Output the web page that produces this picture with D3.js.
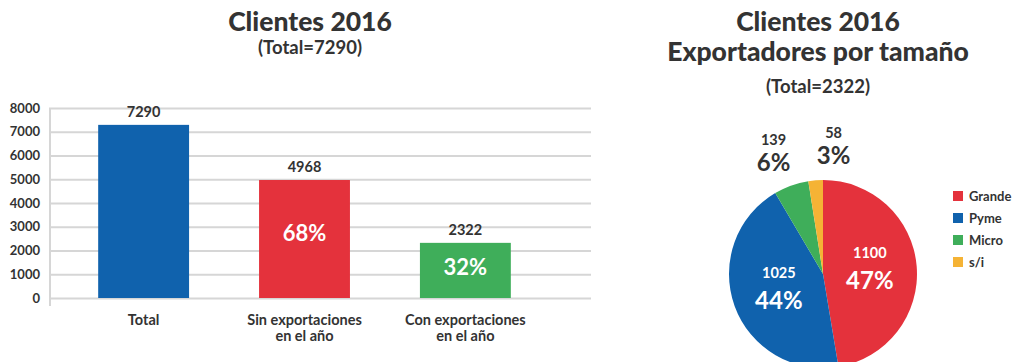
<!DOCTYPE html>
<html>
<head>
<meta charset="utf-8">
<script src="https://cdn.jsdelivr.net/npm/d3@7"></script>
<style>
  html, body { margin: 0; padding: 0; background: #fff; }
  svg { display: block; font-family: Lato, "Open Sans", sans-serif; }
</style>
</head>
<body>
<svg id="chart" width="1015" height="362"></svg>
<script>
// Bar chart: clients 2016
const barCategories = [["Total"], ["Sin exportaciones", "en el año"], ["Con exportaciones", "en el año"]];
const barValues = [7290, 4968, 2322];
const barPercents = ["", "68%", "32%"];
const barColors = ["#1062ad", "#e4323c", "#3fae5a"];
const yTicks = [0, 1000, 2000, 3000, 4000, 5000, 6000, 7000, 8000];

// Pie chart: exporters by size
const pieLabels = ["Grande", "Pyme", "Micro", "s/i"];
const pieValues = [1100, 1025, 139, 58];
const piePercents = ["47%", "44%", "6%", "3%"];
const pieColors = ["#e4323c", "#1062ad", "#3fae5a", "#f5b335"];

const svg = d3.select("#chart");
const dark = "#333";

// ---------- bar chart ----------
const y = d3.scaleLinear().domain([0, 8000]).range([298, 108]);
const x = d3.scaleBand().domain(barValues.map((d, i) => i)).range([66, 543]).paddingInner(0.435).paddingOuter(0.2);

svg.append("text").attr("x", 310).attr("y", 31).attr("text-anchor", "middle")
  .attr("font-size", 26.5).attr("font-weight", 900).attr("fill", dark).text("Clientes 2016");
svg.append("text").attr("x", 310).attr("y", 54).attr("text-anchor", "middle")
  .attr("font-size", 18.5).attr("font-weight", 700).attr("fill", dark).text("(Total=7290)");

const yAxis = svg.append("g").attr("transform", "translate(49,0)")
  .call(d3.axisLeft(y).tickValues(yTicks).tickSize(-542).tickPadding(9).tickFormat(d3.format("d")));
yAxis.select(".domain").remove();
yAxis.selectAll(".tick line").attr("stroke", "#d6d6d6").attr("stroke-width", 2.2);
yAxis.selectAll(".tick text").attr("font-size", 13).attr("font-weight", 700).attr("fill", dark)
  .attr("font-family", "Lato, sans-serif");
svg.append("line").attr("x1", 50).attr("x2", 50).attr("y1", y(8000)).attr("y2", y(0) + 8)
  .attr("stroke", "#d6d6d6").attr("stroke-width", 2);

barValues.forEach((v, i) => {
  const bx = x(i), bw = x.bandwidth(), cx = bx + bw / 2;
  svg.append("rect").attr("x", bx).attr("y", y(v)).attr("width", bw).attr("height", y(0) - y(v))
    .attr("fill", barColors[i]);
  svg.append("text").attr("x", cx).attr("y", y(v) - 8).attr("text-anchor", "middle")
    .attr("font-size", 14.5).attr("font-weight", 700).attr("fill", dark).text(v);
  if (barPercents[i]) {
    svg.append("text").attr("x", cx).attr("y", y(v * 0.55)).attr("dy", "0.35em").attr("text-anchor", "middle")
      .attr("font-size", 22).attr("font-weight", 700).attr("fill", "#fff").text(barPercents[i]);
  }
  barCategories[i].forEach((line, k) => {
    svg.append("text").attr("x", cx).attr("y", 325 + k * 16).attr("text-anchor", "middle")
      .attr("font-size", 14.5).attr("font-weight", 700).attr("fill", dark).text(line);
  });
});

// ---------- pie chart ----------
svg.append("text").attr("x", 818).attr("y", 31).attr("text-anchor", "middle")
  .attr("font-size", 26.5).attr("font-weight", 900).attr("fill", dark).text("Clientes 2016");
svg.append("text").attr("x", 818).attr("y", 61).attr("text-anchor", "middle")
  .attr("font-size", 26.5).attr("font-weight", 900).attr("fill", dark).text("Exportadores por tamaño");
svg.append("text").attr("x", 818).attr("y", 93).attr("text-anchor", "middle")
  .attr("font-size", 18.5).attr("font-weight", 700).attr("fill", dark).text("(Total=2322)");

const cx = 823, cy = 274, r = 94;
const pie = d3.pie().sort(null).value(d => d);
const arcs = pie(pieValues);
const arc = d3.arc().innerRadius(0).outerRadius(r);
const g = svg.append("g").attr("transform", `translate(${cx},${cy})`);
g.selectAll("path").data(arcs).enter().append("path")
  .attr("d", arc).attr("fill", (d, i) => pieColors[i]);

// inside labels for large slices, outside labels for small ones
const inArc = d3.arc().innerRadius(r * 0.5).outerRadius(r * 0.5);
const outArc = d3.arc().innerRadius(r * 1.3).outerRadius(r * 1.3);
const placed = arcs.map(a => {
  const inside = a.endAngle - a.startAngle > 0.6;
  const [px, py] = inside ? inArc.centroid(a) : outArc.centroid(a);
  return { inside, px, py };
});
// spread the outside labels so they don't crowd each other
const outs = placed.filter(p => !p.inside);
if (outs.length > 1) {
  const mid = d3.mean(outs, p => p.px) + 6;
  const gap = 60;
  outs.sort((a, b) => a.px - b.px).forEach((p, k) => {
    p.px = mid + (k - (outs.length - 1) / 2) * gap;
  });
}
placed.forEach((p, i) => {
  const col = p.inside ? "#fff" : dark;
  g.append("text").attr("x", p.px).attr("y", p.py - (p.inside ? 12 : 14)).attr("text-anchor", "middle")
    .attr("font-size", 14.5).attr("font-weight", 700).attr("fill", col).text(pieValues[i]);
  g.append("text").attr("x", p.px).attr("y", p.py + (p.inside ? 19 : 12)).attr("text-anchor", "middle")
    .attr("font-size", 24).attr("font-weight", 700).attr("fill", col).text(piePercents[i]);
});

// legend
const legend = svg.append("g").attr("transform", "translate(953,191)");
pieLabels.forEach((lab, i) => {
  const row = legend.append("g").attr("transform", `translate(0,${i * 22})`);
  row.append("rect").attr("width", 10).attr("height", 10).attr("fill", pieColors[i]);
  row.append("text").attr("x", 16).attr("y", 10).attr("font-size", 13).attr("font-weight", 700)
    .attr("fill", dark).text(lab);
});
</script>
</body>
</html>
